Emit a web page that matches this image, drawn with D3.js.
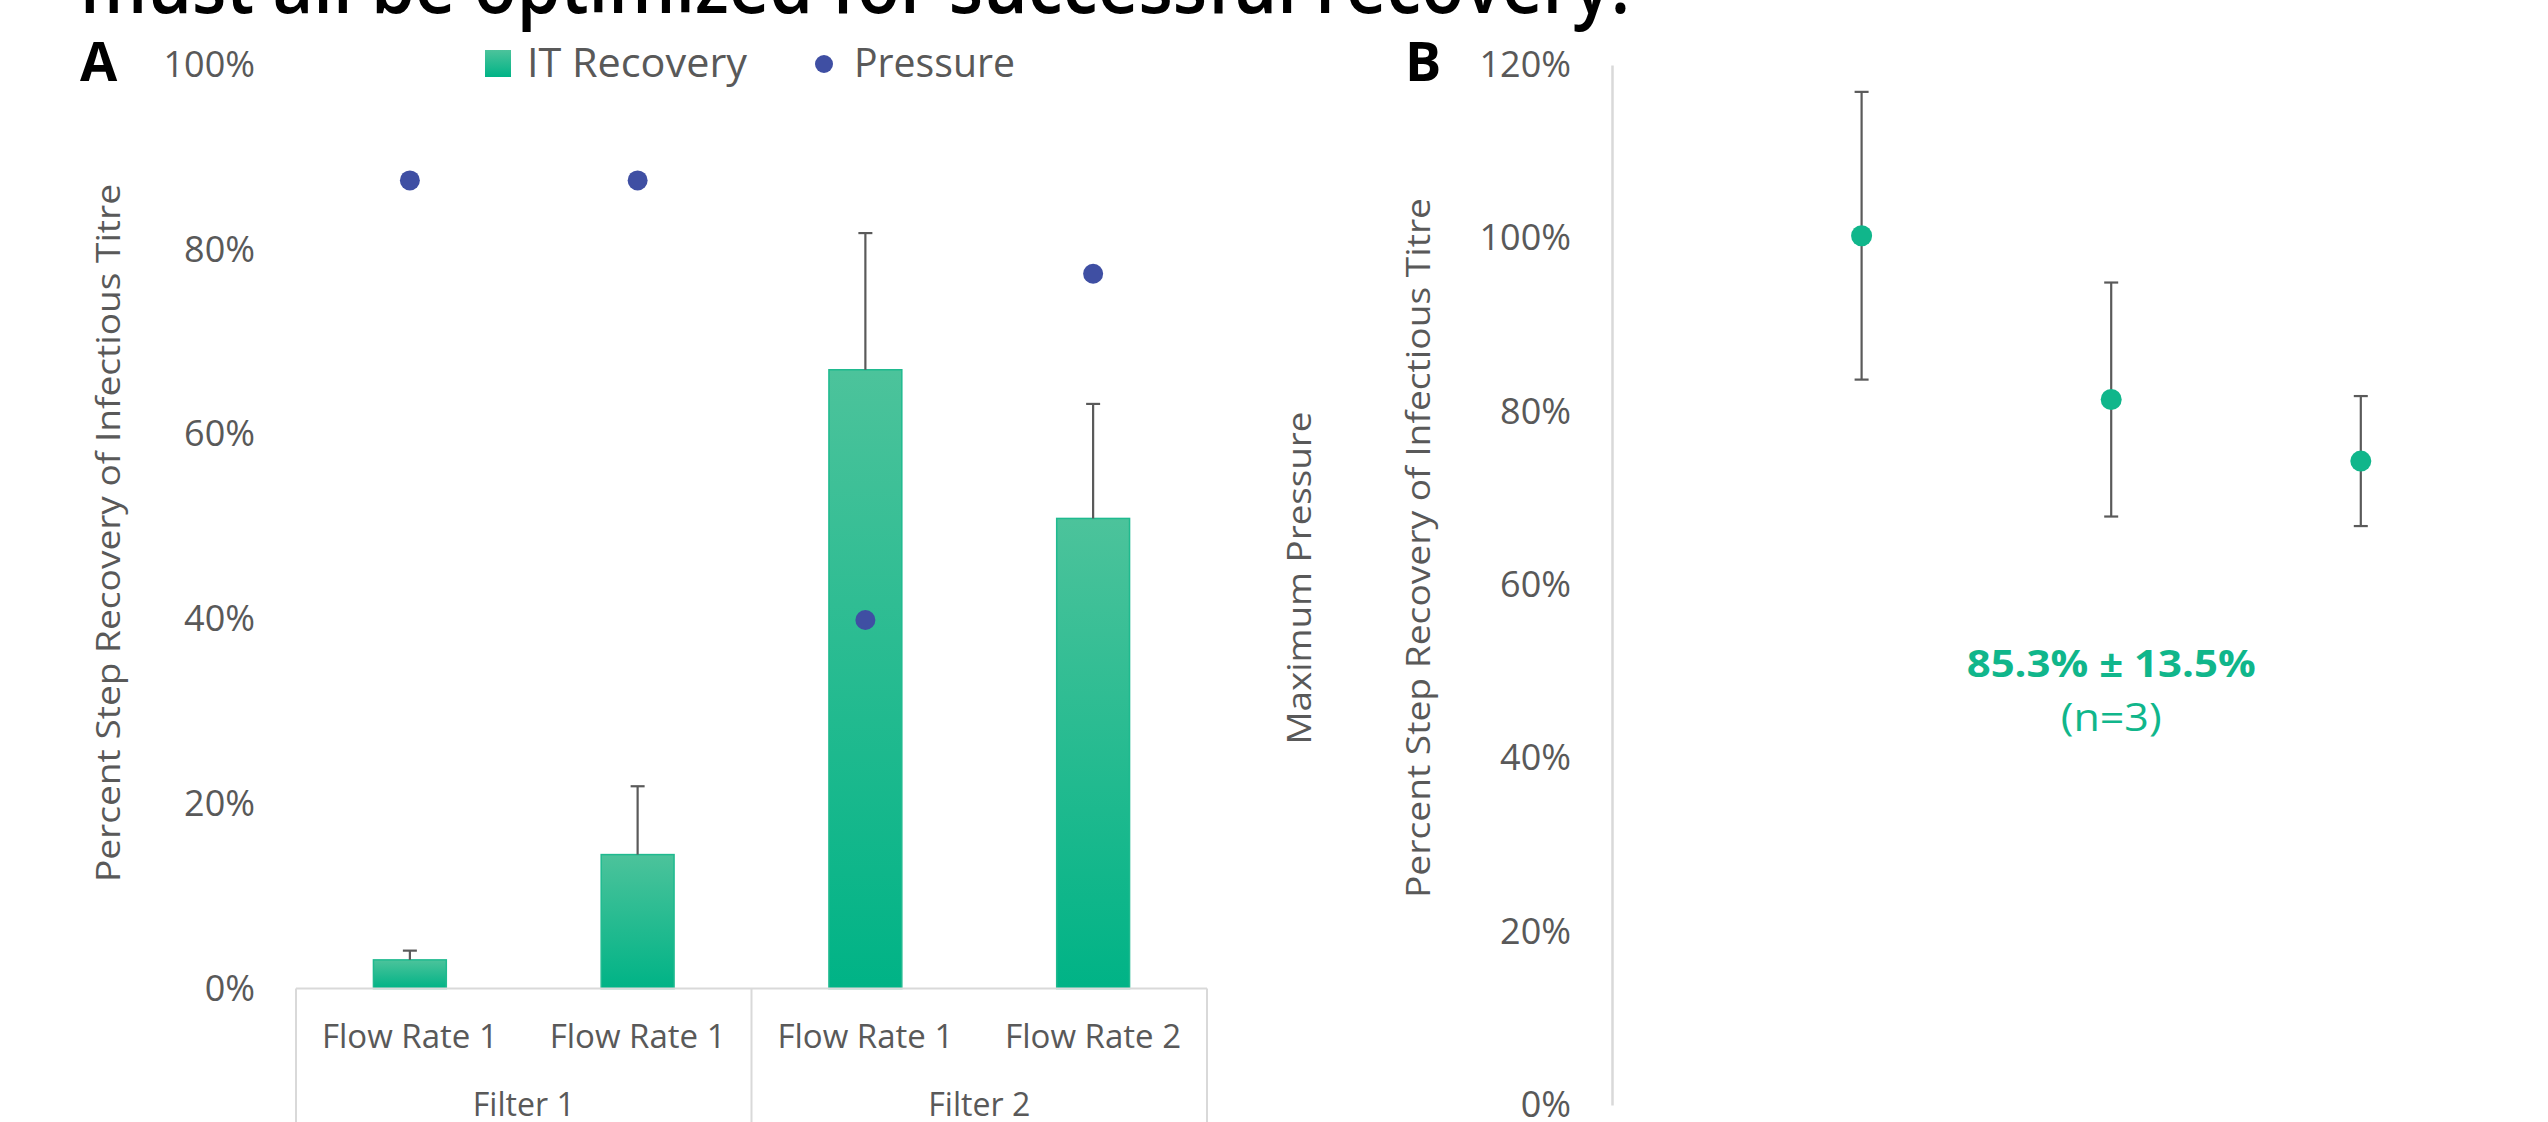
<!DOCTYPE html>
<html>
<head>
<meta charset="utf-8">
<script src="https://cdn.jsdelivr.net/npm/d3@7"></script>
<style>
    body { margin: 0; background: #fff; }
    svg { display: block; }
    text { font-family: 'Open Sans', sans-serif; fill: #595959; }
</style>
</head>
<body>
<div class="chart-container"></div>
<script>
// Panel A: recovery per filter / flow rate, with max pressure on a hidden axis
const flowLabels = ['Flow Rate 1', 'Flow Rate 1', 'Flow Rate 1', 'Flow Rate 2'];
const filterLabels = ['Filter 1', 'Filter 1', 'Filter 2', 'Filter 2'];
const recovery = [0.031, 0.145, 0.670, 0.509];
const recoveryErr = [0.010, 0.074, 0.148, 0.124];
const pressure = [0.875, 0.875, 0.399, 0.774];
const ticksA = [0, 0.2, 0.4, 0.6, 0.8, 1.0];

// Panel B: replicate runs
const runs = [1, 2, 3];
const runRecovery = [1.003, 0.814, 0.743];
const runErr = [0.166, 0.135, 0.075];
const ticksB = [0, 0.2, 0.4, 0.6, 0.8, 1.0, 1.2];
const summary = ['85.3% \u00b1 13.5%', '(n=3)'];

const titleText = 'must all be optimized for successful recovery.';
const yTitle = 'Percent Step Recovery of Infectious Titre';

const width = 2548;
const height = 1122;
const green = '#10b68b';
const blue = '#3f4fa3';
const errColor = '#5a5a5a';
const lineColor = '#d9d9d9';

const svg = d3.select('.chart-container')
    .append('svg')
    .attr('width', width)
    .attr('height', height);

const defs = svg.append('defs');
const grad = defs.append('linearGradient')
    .attr('id', 'barGrad')
    .attr('x1', 0).attr('y1', 0)
    .attr('x2', 0).attr('y2', 1);
grad.append('stop').attr('offset', '0%').attr('stop-color', '#4cc39b');
grad.append('stop').attr('offset', '100%').attr('stop-color', '#00b386');

// slide title, cut off at the top
svg.append('text')
    .attr('x', 80)
    .attr('y', 13)
    .attr('textLength', 1550)
    .attr('lengthAdjust', 'spacingAndGlyphs')
    .style('font-size', '78px')
    .style('font-weight', 600)
    .style('fill', '#000')
    .text(titleText);

// panel letters
svg.selectAll('.panel-letter')
    .data([{ t: 'A', x: 80 }, { t: 'B', x: 1405 }])
    .enter()
    .append('text')
    .attr('class', 'panel-letter')
    .attr('x', d => d.x)
    .attr('y', 81)
    .style('font-size', '54px')
    .style('font-weight', 700)
    .style('fill', '#000')
    .text(d => d.t);

/* ---------- Panel A ---------- */
const xA = d3.scaleBand()
    .domain(d3.range(recovery.length))
    .range([296, 1207])
    .paddingInner(0.68)
    .paddingOuter(0.34);

const yA = d3.scaleLinear()
    .domain([0, 1])
    .range([988.5, 65]);

// pressure sits on a secondary axis that is not drawn
const yP = d3.scaleLinear()
    .domain([0, 1])
    .range([988.5, 65]);

const axisA = svg.append('g')
    .attr('transform', 'translate(255,0)')
    .call(d3.axisLeft(yA)
        .tickValues(ticksA)
        .tickFormat(d3.format('.0%'))
        .tickSize(0)
        .tickPadding(0));
axisA.select('.domain').remove();
axisA.selectAll('text')
    .style('font-family', 'Open Sans')
    .style('font-size', '36px')
    .attr('fill', '#595959');

const centerA = i => xA(i) + xA.bandwidth() / 2;

svg.append('g')
    .selectAll('rect')
    .data(recovery)
    .enter()
    .append('rect')
    .attr('x', (d, i) => xA(i))
    .attr('y', d => yA(d))
    .attr('width', xA.bandwidth())
    .attr('height', d => yA(0) - yA(d))
    .attr('fill', 'url(#barGrad)')
    .attr('stroke', '#1fba8f')
    .attr('stroke-width', 1.5);

// error bars go up only
const errA = svg.append('g')
    .attr('stroke', errColor)
    .attr('stroke-width', 2.2);
errA.selectAll('line.stem')
    .data(recovery)
    .enter()
    .append('line')
    .attr('class', 'stem')
    .attr('x1', (d, i) => centerA(i))
    .attr('x2', (d, i) => centerA(i))
    .attr('y1', d => yA(d))
    .attr('y2', (d, i) => yA(d + recoveryErr[i]));
errA.selectAll('line.cap')
    .data(recovery)
    .enter()
    .append('line')
    .attr('class', 'cap')
    .attr('x1', (d, i) => centerA(i) - 7)
    .attr('x2', (d, i) => centerA(i) + 7)
    .attr('y1', (d, i) => yA(d + recoveryErr[i]))
    .attr('y2', (d, i) => yA(d + recoveryErr[i]));

svg.append('g')
    .selectAll('circle')
    .data(pressure)
    .enter()
    .append('circle')
    .attr('cx', (d, i) => centerA(i))
    .attr('cy', d => yP(d))
    .attr('r', 10)
    .attr('fill', blue);

// multi-level category box
const [x0, x1] = xA.range();
const gap = (xA.step() - xA.bandwidth()) / 2;
const splits = [x0, xA(2) - gap, x1];
const box = svg.append('g')
    .attr('stroke', lineColor)
    .attr('stroke-width', 2);
box.append('line')
    .attr('x1', x0).attr('x2', x1)
    .attr('y1', yA(0)).attr('y2', yA(0));
box.selectAll('line.split')
    .data(splits)
    .enter()
    .append('line')
    .attr('class', 'split')
    .attr('x1', d => d).attr('x2', d => d)
    .attr('y1', yA(0)).attr('y2', height);

const catAxis = svg.append('g')
    .attr('transform', `translate(0,${yA(0)})`)
    .call(d3.axisBottom(xA)
        .tickFormat(i => flowLabels[i])
        .tickSize(0)
        .tickPadding(37));
catAxis.select('.domain').remove();
catAxis.selectAll('text')
    .style('font-family', 'Open Sans')
    .style('font-size', '32px')
    .attr('fill', '#595959')
    .attr('textLength', 176)
    .attr('lengthAdjust', 'spacingAndGlyphs');

const groups = d3.groups(d3.range(filterLabels.length), i => filterLabels[i]);
svg.selectAll('.group-label')
    .data(groups)
    .enter()
    .append('text')
    .attr('class', 'group-label')
    .attr('x', d => d3.mean(d[1], centerA))
    .attr('y', 1116)
    .attr('text-anchor', 'middle')
    .attr('textLength', 102)
    .attr('lengthAdjust', 'spacingAndGlyphs')
    .style('font-size', '32px')
    .text(d => d[0]);

// legend
const legend = svg.append('g');
legend.append('rect')
    .attr('x', 485).attr('y', 50)
    .attr('width', 26).attr('height', 27)
    .attr('fill', 'url(#barGrad)');
legend.append('text')
    .attr('x', 527).attr('y', 77)
    .attr('textLength', 220)
    .attr('lengthAdjust', 'spacingAndGlyphs')
    .style('font-size', '40px')
    .text('IT Recovery');
legend.append('circle')
    .attr('cx', 824).attr('cy', 64)
    .attr('r', 9)
    .attr('fill', blue);
legend.append('text')
    .attr('x', 854).attr('y', 77)
    .attr('textLength', 161)
    .attr('lengthAdjust', 'spacingAndGlyphs')
    .style('font-size', '40px')
    .text('Pressure');

// rotated axis titles
const rotTitles = [
    { t: yTitle, x: 109, y: 533, len: 698 },
    { t: 'Maximum Pressure', x: 1300, y: 578, len: 333 },
    { t: yTitle, x: 1419, y: 548, len: 700 }
];
svg.selectAll('.rot-title')
    .data(rotTitles)
    .enter()
    .append('text')
    .attr('class', 'rot-title')
    .attr('transform', d => `translate(${d.x},${d.y}) rotate(-90)`)
    .attr('text-anchor', 'middle')
    .attr('dy', '0.35em')
    .attr('textLength', d => d.len)
    .attr('lengthAdjust', 'spacingAndGlyphs')
    .style('font-size', '32px')
    .text(d => d.t);

/* ---------- Panel B ---------- */
const xB = d3.scaleLinear()
    .domain([0, 3.75])
    .range([1612, 2548]);

const yB = d3.scaleLinear()
    .domain([0, 1.2])
    .range([1105, 65]);

const axisB = svg.append('g')
    .attr('transform', `translate(${xB(0)},0)`)
    .call(d3.axisLeft(yB)
        .tickValues(ticksB)
        .tickFormat(d3.format('.0%'))
        .tickSize(0)
        .tickPadding(41));
axisB.select('.domain')
    .attr('stroke', lineColor)
    .attr('stroke-width', 2.5);
axisB.selectAll('text')
    .style('font-family', 'Open Sans')
    .style('font-size', '36px')
    .attr('fill', '#595959');

const errB = svg.append('g')
    .attr('stroke', errColor)
    .attr('stroke-width', 2.2);
errB.selectAll('line.stem')
    .data(runs)
    .enter()
    .append('line')
    .attr('class', 'stem')
    .attr('x1', d => xB(d))
    .attr('x2', d => xB(d))
    .attr('y1', (d, i) => yB(runRecovery[i] - runErr[i]))
    .attr('y2', (d, i) => yB(runRecovery[i] + runErr[i]));
['+', '-'].forEach(sign => {
    errB.selectAll(`line.cap${sign === '+' ? 'Hi' : 'Lo'}`)
        .data(runs)
        .enter()
        .append('line')
        .attr('class', `cap${sign === '+' ? 'Hi' : 'Lo'}`)
        .attr('x1', d => xB(d) - 7)
        .attr('x2', d => xB(d) + 7)
        .attr('y1', (d, i) => yB(runRecovery[i] + (sign === '+' ? runErr[i] : -runErr[i])))
        .attr('y2', (d, i) => yB(runRecovery[i] + (sign === '+' ? runErr[i] : -runErr[i])));
});

svg.append('g')
    .selectAll('circle')
    .data(runs)
    .enter()
    .append('circle')
    .attr('cx', d => xB(d))
    .attr('cy', (d, i) => yB(runRecovery[i]))
    .attr('r', 10.5)
    .attr('fill', green);

// mean +/- sd annotation
svg.append('text')
    .attr('x', xB(2))
    .attr('y', 677)
    .attr('text-anchor', 'middle')
    .attr('textLength', 289)
    .attr('lengthAdjust', 'spacingAndGlyphs')
    .style('font-size', '38px')
    .style('font-weight', 700)
    .style('fill', green)
    .text(summary[0]);
svg.append('text')
    .attr('x', xB(2))
    .attr('y', 731)
    .attr('text-anchor', 'middle')
    .attr('textLength', 101)
    .attr('lengthAdjust', 'spacingAndGlyphs')
    .style('font-size', '38px')
    .style('fill', green)
    .text(summary[1]);
</script>
</body>
</html>
